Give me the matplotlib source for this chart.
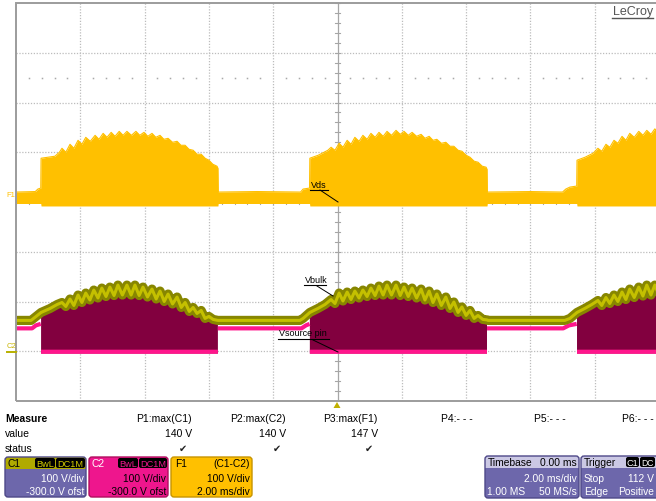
import numpy as np
import matplotlib
matplotlib.use('Agg')
import matplotlib.pyplot as plt
from matplotlib.patches import FancyBboxPatch, Rectangle, Polygon

plt.rcParams['font.family'] = ['Liberation Sans', 'DejaVu Sans']

# ---------------- data (time in ms, values in V) ----------------
# F1 = C1 - C2 (Vds), upper envelope of the trace
vds_t = [-10.0, -9.40, -9.32, -9.23, -9.22, -8.79, -8.65,
         -8.57, -8.45, -8.32, -8.20, -8.07, -7.95, -7.83, -7.69, -7.54, -7.42,
         -7.29, -7.17, -7.04, -6.92, -6.79, -6.67, -6.55, -6.41, -6.27, -6.15,
         -6.02, -5.90, -5.77, -5.65, -5.52, -5.40, -5.27, -5.13, -4.99, -4.87,
         -4.74, -4.62, -4.49, -4.37, -4.24, -4.12, -4.00, -3.88, -3.75, -3.72, -3.71,
         -2.50, -1.15, -1.07, -0.87, -0.86, -0.60, -0.30,
         -0.20, -0.08, 0.05, 0.17, 0.30, 0.42, 0.54, 0.67, 0.79, 0.92,
         1.04, 1.17, 1.29, 1.42, 1.54, 1.68, 1.82, 1.95, 2.07, 2.20,
         2.32, 2.46, 2.60, 2.72, 2.85, 2.97, 3.09, 3.23, 3.37, 3.50,
         3.62, 3.75, 3.87, 4.00, 4.12, 4.25, 4.37, 4.50, 4.62, 4.65, 4.66,
         6.00, 7.00, 7.10, 7.23, 7.44, 7.45, 7.70, 7.95,
         8.10, 8.22, 8.35, 8.47, 8.60, 8.72, 8.85, 8.97, 9.09, 9.23,
         9.37, 9.50, 9.62, 9.75, 9.87, 10.0, 10.12]
vds_v = [20, 21, 26, 28, 88, 92, 100,
         108, 100, 116, 108, 124, 116, 130, 122, 134, 126,
         138, 130, 140, 132, 142, 134, 142, 134, 142, 134,
         140, 132, 138, 130, 134, 126, 128, 120, 122, 114,
         114, 106, 104, 96, 96, 88, 84, 76, 72, 68, 20,
         21, 20, 26, 28, 88, 94, 104,
         110, 104, 118, 110, 124, 116, 130, 122, 134, 126,
         138, 130, 140, 132, 142, 134, 144, 136, 142, 134,
         140, 132, 136, 128, 132, 124, 126, 118, 120, 112,
         112, 104, 102, 94, 90, 82, 80, 72, 70, 66, 20,
         21, 20, 26, 30, 32, 84, 90, 98,
         108, 102, 116, 110, 124, 118, 132, 124, 138, 130,
         142, 134, 144, 136, 147, 138, 146]
vds_low_on = -8
vds_low_off = -3

# C1 (Vbulk)
vbulk_t = [-10.0, -9.53, -9.22, -8.94, -8.72,
           -8.57, -8.45, -8.32, -8.20, -8.07, -7.95, -7.83, -7.70, -7.58, -7.45,
           -7.33, -7.20, -7.08, -6.95, -6.83, -6.69, -6.55, -6.42, -6.30, -6.17,
           -6.05, -5.91, -5.77, -5.64, -5.52, -5.39, -5.27, -5.13, -4.99, -4.86,
           -4.74, -4.61, -4.49, -4.37, -4.24, -4.12, -4.00, -3.87, -3.72,
           -1.17, -1.07, -0.86, -0.61, -0.39,
           -0.20, -0.08, 0.05, 0.17, 0.30, 0.42, 0.54, 0.67, 0.79, 0.92,
           1.04, 1.17, 1.29, 1.42, 1.54, 1.68, 1.82, 1.95, 2.07, 2.20,
           2.32, 2.46, 2.60, 2.72, 2.85, 2.97, 3.09, 3.23, 3.37, 3.50,
           3.62, 3.75, 3.87, 4.00, 4.12, 4.25, 4.37, 4.52, 4.65, 4.68,
           7.07, 7.23, 7.45, 7.69, 7.91,
           8.10, 8.22, 8.35, 8.47, 8.60, 8.72, 8.85, 8.97, 9.09, 9.23,
           9.37, 9.50, 9.62, 9.75, 9.87, 10.0, 10.12]
vbulk_v = [62, 62, 78, 86, 94,
           98, 90, 105, 92, 113, 98, 117, 103, 123, 107,
           127, 110, 129, 112, 133, 113, 133, 113, 133, 112,
           129, 109, 125, 105, 121, 100, 115, 95, 109, 88,
           98, 80, 88, 76, 82, 66, 70, 64, 62,
           62, 66, 78, 86, 94,
           104, 96, 117, 101, 119, 104, 121, 107, 123, 110,
           127, 112, 131, 113, 133, 113, 133, 112, 129, 110,
           127, 107, 125, 103, 121, 98, 115, 92, 109, 86,
           99, 78, 89, 72, 82, 66, 72, 64, 63, 62,
           62, 66, 78, 86, 94,
           102, 92, 108, 96, 113, 100, 119, 104, 125, 108,
           129, 111, 133, 113, 133, 113, 133]

# C2 (Vsource pin); None marks a break in the trace
vsrc_t = [-10.0, -9.50, -9.38, -9.23, None,
          -9.22, -3.72, None,
          -3.72, -1.12, -0.98, -0.87, None,
          -0.86, 4.65, None,
          4.65, 7.02, 7.20, 7.44, None,
          7.45, 10.5]
vsrc_v = [46, 46, 52, 55, None,
          -1, -1, None,
          46, 46, 52, 55, None,
          -1, -1, None,
          46, 46, 52, 55, None,
          -1, -1]

on_windows = [(-9.22, -3.72), (-0.86, 4.65), (7.45, 10.5)]

volts_per_div = 100
c_offset_div = -3      # -300 V offset for C1 / C2
f1_offset_div = 0

measure_labels = ['P1:max(C1)', 'P2:max(C2)', 'P3:max(F1)', 'P4:- - -', 'P5:- - -', 'P6:- - -']
measure_values = ['140 V', '140 V', '147 V', '', '', '']
measure_status = ['\u2714', '\u2714', '\u2714', '', '', '']

# ---------------- figure ----------------
W, H = 656, 502
fig = plt.figure(figsize=(W / 100, H / 100), dpi=100)
fig.patch.set_facecolor('white')

ax = fig.add_axes([16 / W, 100 / H, 643 / W, 398 / H])
ax.set_xlim(-10, 10)
ax.set_ylim(-4, 4)
ax.axis('off')

grid_c = '#bcbcbc'
for x in range(-8, 10, 2):
    if x != 0:
        ax.plot([x, x], [-4, 4], color=grid_c, lw=0.9, ls=(0, (1, 1.3)), zorder=0)
for y in range(-3, 4):
    if y != 0:
        ax.plot([-10, 10], [y, y], color=grid_c, lw=0.9, ls=(0, (1, 1.3)), zorder=0)
ax.plot([0, 0], [-4, 4], color='#a6a6a6', lw=0.9, zorder=0)
ax.plot([-10, 10], [0, 0], color='#a6a6a6', lw=0.9, zorder=0)
for k in range(-20, 21):
    yy = k * 0.2
    ax.plot([-0.065, 0.065], [yy, yy], color='#a6a6a6', lw=0.8, zorder=0)
for k in range(-25, 26):
    xx = k * 0.4
    ax.plot([xx, xx], [-0.045, 0.045], color='#a6a6a6', lw=0.8, zorder=0)
# dotted reference row
dx = [k * 0.4 for k in range(-25, 26) if k % 5 != 0]
ax.plot(dx, [2.5] * len(dx), ls='none', marker='s', ms=1.1, color='#a8a8a8', mew=0, zorder=0)

def in_on(t):
    t = np.asarray(t, dtype=float)
    m = np.zeros(t.shape, dtype=bool)
    for a, b in on_windows:
        m |= (t >= a) & (t <= b)
    return m

# F1 (Vds)
t1 = np.array(vds_t, dtype=float)
v1 = np.array(vds_v, dtype=float) / volts_per_div + f1_offset_div
low1 = np.where(in_on(t1), vds_low_on, vds_low_off) / volts_per_div + f1_offset_div
ax.fill_between(t1, low1, v1, color='#ffc000', lw=0, zorder=2)
ax.plot(t1, v1, color='#ffc000', lw=0.8, zorder=2)

# C1 / C2
tb = np.array(vbulk_t, dtype=float)
vb = np.array(vbulk_v, dtype=float) / volts_per_div + c_offset_div
ax.fill_between(tb, c_offset_div - 0.045, vb, where=in_on(tb), color='#82003f', lw=0, zorder=3)

ts = np.array([np.nan if a is None else a for a in vsrc_t], dtype=float)
vs = np.array([np.nan if a is None else a for a in vsrc_v], dtype=float) / volts_per_div + c_offset_div
ax.plot(ts, vs, color='#ff168c', lw=3.0, solid_capstyle='butt', zorder=4)

ax.plot(tb, vb, color='#878600', lw=6.6, solid_joinstyle='round', zorder=5)
ax.plot(tb, vb, color='#c4c000', lw=2.2, solid_joinstyle='round', zorder=6)

# border
ax.add_patch(Rectangle((-10, -4), 20, 8, fill=False, edgecolor='#9c9c9c', lw=1.4, zorder=8, clip_on=False))

# ---------------- overlay in pixel coordinates ----------------
ov = fig.add_axes([0, 0, 1, 1], zorder=10)
ov.set_xlim(0, W)
ov.set_ylim(H, 0)
ov.axis('off')
ov.patch.set_alpha(0)

fs_small = 6.5
# trace annotations
ov.text(311, 186, 'Vds', fontsize=fs_small, color='black', va='center', ha='left')
ov.plot([310, 328], [190.5, 190.5], color='black', lw=0.8)
ov.plot([320, 338], [191, 203], color='black', lw=0.7)

ov.text(305, 281, 'Vbulk', fontsize=fs_small, color='black', va='center', ha='left')
ov.plot([304, 326], [286, 286], color='black', lw=0.8)
ov.plot([317, 333], [287, 297], color='black', lw=0.7)

ov.text(279, 334, 'Vsource pin', fontsize=fs_small, color='black', va='center', ha='left')
ov.plot([278, 329], [340, 340], color='black', lw=0.8)
ov.plot([313, 338], [341, 353], color='black', lw=0.7)

ov.text(6, 196, 'F1', fontsize=5.5, color='#ffc000', va='center', ha='left')
ov.text(7, 347, 'C2', fontsize=5.5, color='#c8b400', va='center', ha='left')
ov.plot([7, 16], [353, 353], color='#b8b000', lw=1.4)

# LeCroy logo
ov.text(653, 12, 'LeCroy', fontsize=9, color='#555555', va='center', ha='right')
ov.plot([612, 653], [18.5, 18.5], color='#555555', lw=1.0)

# trigger marker
ov.add_patch(Polygon([[333.5, 409], [340.5, 409], [337, 403]], closed=True, color='#c0b000', lw=0))

# measure table
fs_m = 7.5
ov.text(5, 419, 'Measure', fontsize=fs_m, fontweight='bold', va='center', ha='left')
ov.text(5, 434, 'value', fontsize=fs_m, va='center', ha='left')
ov.text(5, 449, 'status', fontsize=fs_m, va='center', ha='left')
right_edges = [192, 286, 378, 473, 566, 654]
for lab, val, st, xr in zip(measure_labels, measure_values, measure_status, right_edges):
    ov.text(xr, 419, lab, fontsize=fs_m, va='center', ha='right')
    if val:
        ov.text(xr, 434, val, fontsize=fs_m, va='center', ha='right')
    if st:
        ov.text(xr - 9, 449, st, fontsize=7, va='center', ha='center', color='#222222')

purple = '#6d67ab'
purple_edge = '#4e4888'

def box(x0, x1, y0, y1, head_col, body_col, edge_col, head_h=12):
    ov.add_patch(FancyBboxPatch((x0, y0), x1 - x0, y1 - y0,
                                boxstyle='round,pad=0,rounding_size=3',
                                fc=head_col, ec='none'))
    ov.add_patch(FancyBboxPatch((x0, y0 + head_h), x1 - x0, y1 - y0 - head_h,
                                boxstyle='round,pad=0,rounding_size=3',
                                fc=body_col, ec='none'))
    ov.add_patch(Rectangle((x0, y0 + head_h), x1 - x0, 5, fc=body_col, ec='none'))
    ov.add_patch(FancyBboxPatch((x0, y0), x1 - x0, y1 - y0,
                                boxstyle='round,pad=0,rounding_size=3',
                                fc='none', ec=edge_col, lw=1.0))

def tag(x0, x1, y0, y1, text, tcol, fs=6.6):
    ov.add_patch(FancyBboxPatch((x0, y0), x1 - x0, y1 - y0,
                                boxstyle='round,pad=0,rounding_size=2',
                                fc='black', ec='none'))
    ov.text((x0 + x1) / 2, (y0 + y1) / 2 + 0.3, text, fontsize=fs, color=tcol,
            va='center', ha='center')

fs_b = 7.4
# C1
box(5, 86, 458, 498, '#b0aa00', purple, purple_edge)
ov.text(8, 464, 'C1', fontsize=fs_b, va='center', ha='left', color='black')
tag(35, 55, 459, 469, 'BwL', '#d4cc00')
tag(56, 85, 459, 469, 'DC1M', '#d4cc00')
ov.text(84, 479, '100 V/div', fontsize=fs_b, va='center', ha='right', color='white')
ov.text(84, 492, '-300.0 V ofst', fontsize=fs_b, va='center', ha='right', color='white')

# C2
box(89, 168, 458, 498, '#ee168d', '#ee168d', '#b0105f')
ov.text(92, 464, 'C2', fontsize=fs_b, va='center', ha='left', color='white')
tag(118, 138, 459, 469, 'BwL', '#ee168d')
tag(139, 167, 459, 469, 'DC1M', '#ee168d')
ov.text(166, 479, '100 V/div', fontsize=fs_b, va='center', ha='right', color='black')
ov.text(166, 492, '-300.0 V ofst', fontsize=fs_b, va='center', ha='right', color='black')

# F1
box(171, 252, 458, 498, '#ffc000', '#ffc000', '#c89400')
ov.text(175, 464, 'F1', fontsize=fs_b, va='center', ha='left', color='black')
ov.text(250, 464, '(C1-C2)', fontsize=fs_b, va='center', ha='right', color='black')
ov.text(250, 479, '100 V/div', fontsize=fs_b, va='center', ha='right', color='black')
ov.text(250, 492, '2.00 ms/div', fontsize=fs_b, va='center', ha='right', color='black')

# Timebase
box(485, 579, 457, 499, '#cbc8e4', purple, purple_edge)
ov.text(488, 463, 'Timebase', fontsize=fs_b, va='center', ha='left', color='black')
ov.text(577, 463, '0.00 ms', fontsize=fs_b, va='center', ha='right', color='black')
ov.text(577, 479, '2.00 ms/div', fontsize=fs_b, va='center', ha='right', color='white')
ov.text(487, 492, '1.00 MS', fontsize=fs_b, va='center', ha='left', color='white')
ov.text(577, 492, '50 MS/s', fontsize=fs_b, va='center', ha='right', color='white')

# Trigger (box runs off the right edge like the reference)
box(581, 680, 457, 499, '#cbc8e4', purple, purple_edge)
ov.text(584, 463, 'Trigger', fontsize=fs_b, va='center', ha='left', color='black')
tag(626, 639, 458, 468, 'C1', 'white')
tag(640, 655, 458, 468, 'DC', 'white', fs=6.2)
ov.text(584, 479, 'Stop', fontsize=fs_b, va='center', ha='left', color='white')
ov.text(654, 479, '112 V', fontsize=fs_b, va='center', ha='right', color='white')
ov.text(584, 492, 'Edge', fontsize=fs_b, va='center', ha='left', color='white')
ov.text(654, 492, 'Positive', fontsize=fs_b, va='center', ha='right', color='white')

fig.savefig('out.png', dpi=100)
